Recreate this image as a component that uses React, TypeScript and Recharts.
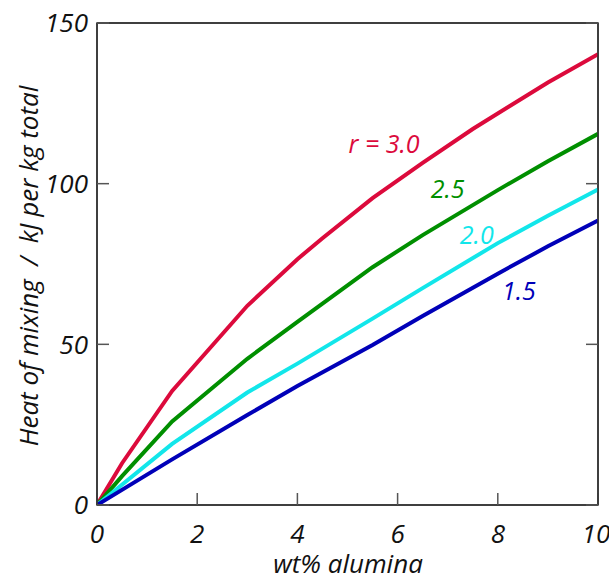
import React from 'react';
import { LineChart, Line, XAxis, YAxis, ReferenceDot, ReferenceArea, Customized } from 'recharts';

const xTicks = [0, 2, 4, 6, 8, 10];
const yTicks = [0, 50, 100, 150];

const r30 = [
  { x: 0, y: 0 }, { x: 0.5, y: 13 }, { x: 1.5, y: 35.5 }, { x: 3, y: 62 }, { x: 4, y: 76.5 },
  { x: 4.5, y: 83 }, { x: 5.5, y: 95.5 }, { x: 6.5, y: 106.5 }, { x: 7.5, y: 117 },
  { x: 9, y: 131.5 }, { x: 10, y: 140.3 },
];
const r25 = [
  { x: 0, y: 0 }, { x: 0.5, y: 9 }, { x: 1.5, y: 26 }, { x: 3, y: 45.5 }, { x: 4, y: 57 },
  { x: 5.5, y: 74 }, { x: 6.5, y: 84 }, { x: 8, y: 98 }, { x: 9, y: 107 }, { x: 10, y: 115.5 },
];
const r20 = [
  { x: 0, y: 0 }, { x: 1.5, y: 19 }, { x: 3, y: 35 }, { x: 4, y: 44 }, { x: 5.5, y: 58 },
  { x: 6.5, y: 67.5 }, { x: 8, y: 81.5 }, { x: 9, y: 90 }, { x: 10, y: 98.2 },
];
const r15 = [
  { x: 0, y: 0 }, { x: 1.5, y: 14.2 }, { x: 3, y: 28 }, { x: 4, y: 37 }, { x: 5.5, y: 49.8 },
  { x: 6.5, y: 58.8 }, { x: 8, y: 72 }, { x: 9, y: 80.5 }, { x: 10, y: 88.5 },
];

const seriesNames = ['r = 3.0', '2.5', '2.0', '1.5'];
const seriesColors = ['#dc0a3c', '#008f00', '#12e6ea', '#0000b8'];
const seriesData = [r30, r25, r20, r15];
const labelX = [5.73, 7.0, 7.58, 8.42];
const labelY = [112.7, 98.5, 84.3, 67];

const FONT = '"Open Sans", sans-serif';

const makeLabel = (text: string, color: string) => (props: any) => {
  const vb = props.viewBox || {};
  const cx = (vb.x ?? 0) + (vb.width ?? 0) / 2;
  const cy = (vb.y ?? 0) + (vb.height ?? 0) / 2;
  return (
    <text x={cx} y={cy} textAnchor="middle" dominantBaseline="central" fill={color}
      fontFamily={FONT} fontStyle="italic" fontSize={25}>
      {text}
    </text>
  );
};

const Titles = () => (
  <g>
    <text x={340} y={565} textAnchor="middle" fill="#111" fontFamily={FONT} fontStyle="italic" fontSize={26}>
      wt% alumina
    </text>
    <text x={0} y={0} transform="translate(20,258) rotate(-90)" textAnchor="middle" dominantBaseline="central"
      fill="#111" fontFamily={FONT} fontStyle="italic" fontSize={26} style={{ whiteSpace: 'pre' }}>
      {'Heat of mixing  /  kJ per kg total'}
    </text>
  </g>
);

const tickStyle = { fontFamily: FONT, fontStyle: 'italic', fontSize: 26, fill: '#111' };
const axisLineStyle = { stroke: '#333', strokeWidth: 1.5 };
const tickLineStyle = { stroke: '#555', strokeWidth: 1.5 };

export default function App() {
  return (
    <div style={{ position: 'fixed', left: 0, top: 0, width: 609, height: 575, overflow: 'hidden', background: '#fff' }}>
      <div style={{ position: 'absolute', left: 8, top: 8 }}>
        <LineChart width={601} height={567} margin={{ top: 14, right: 10, bottom: 0, left: 0 }}>
          <XAxis dataKey="x" type="number" domain={[0, 10]} ticks={xTicks} height={70}
            tickSize={-12} tickMargin={32} tick={tickStyle} allowDataOverflow
            axisLine={axisLineStyle} tickLine={tickLineStyle} />
          <XAxis xAxisId="top" orientation="top" type="number" domain={[0, 10]} ticks={xTicks} height={1}
            tickSize={-12} tickFormatter={() => ''} allowDataOverflow
            axisLine={axisLineStyle} tickLine={tickLineStyle} />
          <YAxis type="number" domain={[0, 150]} ticks={yTicks} width={89}
            tickSize={-12} tickMargin={21} tick={tickStyle} allowDataOverflow
            axisLine={axisLineStyle} tickLine={tickLineStyle} />
          <YAxis yAxisId="right" orientation="right" type="number" domain={[0, 150]} ticks={yTicks} width={1}
            tickSize={-12} tickFormatter={() => ''} allowDataOverflow
            axisLine={axisLineStyle} tickLine={tickLineStyle} />
          <ReferenceArea x1={0} x2={10} y1={0} y2={150} fill="none" stroke="#333" strokeWidth={1.5}
            ifOverflow="visible" />
          {seriesData.map((d, i) => (
            <Line key={seriesNames[i]} data={d} dataKey="y" type="linear" stroke={seriesColors[i]}
              strokeWidth={4} dot={false} activeDot={false} isAnimationActive={false} />
          ))}
          {seriesNames.map((n, i) => (
            <ReferenceDot key={'l' + n} x={labelX[i]} y={labelY[i]} r={0} fill="none" stroke="none"
              label={makeLabel(n, seriesColors[i])} />
          ))}
          <Customized component={Titles} />
        </LineChart>
      </div>
    </div>
  );
}
